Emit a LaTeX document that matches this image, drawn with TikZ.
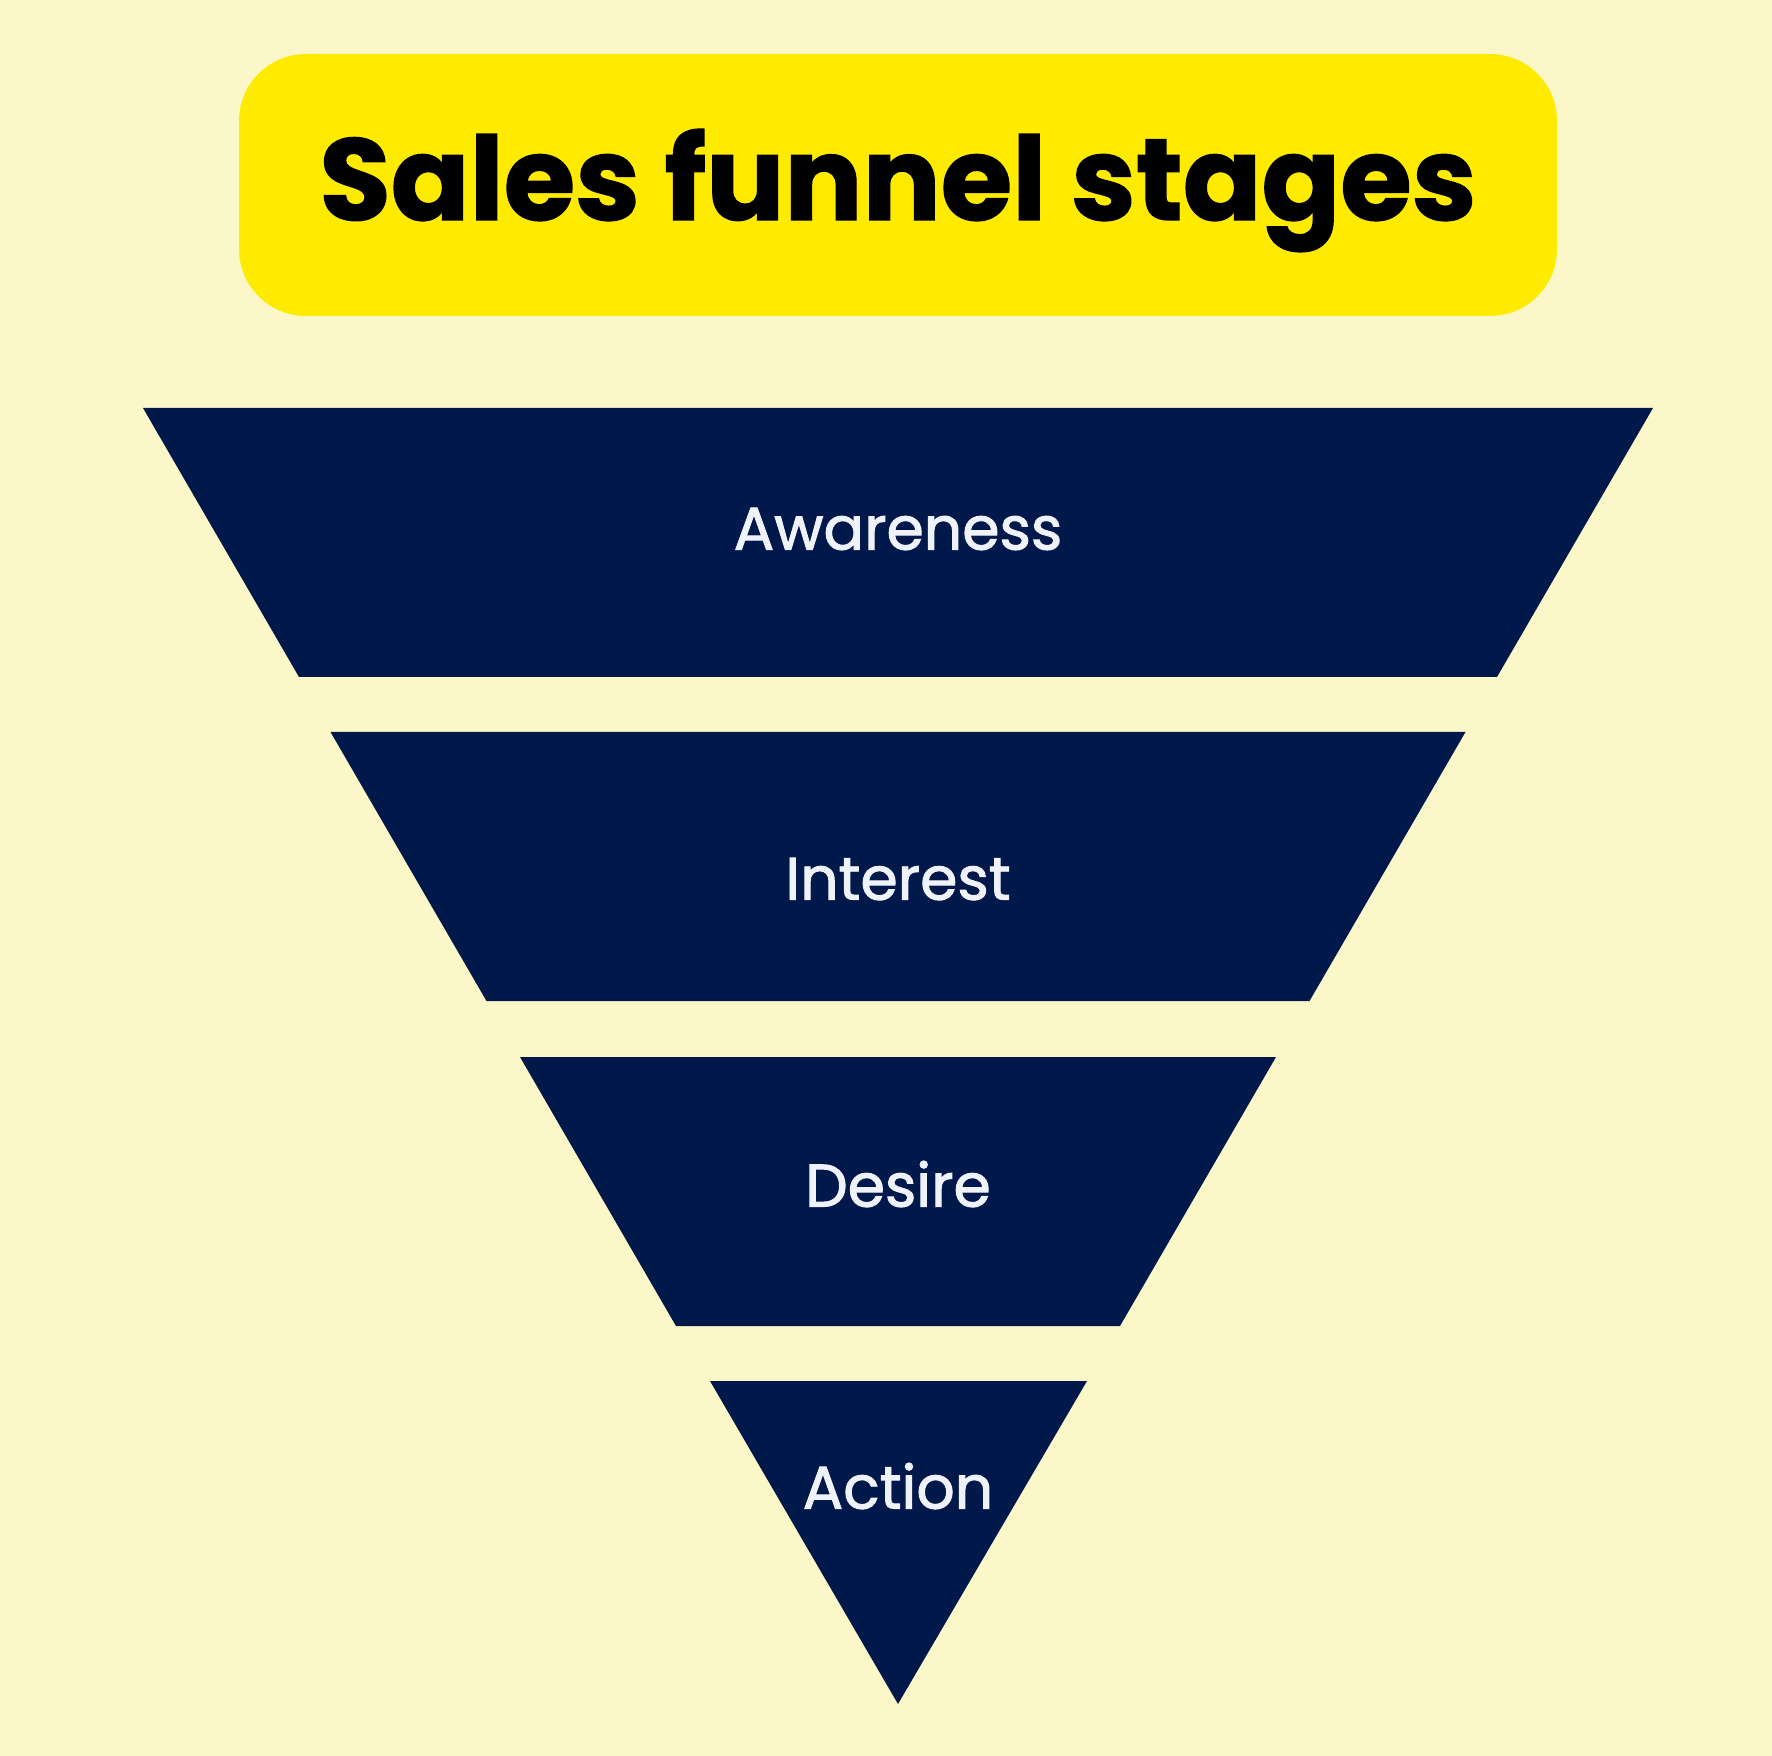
\documentclass[tikz,border=0pt]{standalone}
\usepackage{fontspec}
\setmainfont{Poppins}
\newfontfamily\titlefont{Poppins}[BoldFeatures={FakeBold=1.2}]
\newfontfamily\stagefont{Poppins}[FakeBold=1.6]
\usepackage{tikz}
\usetikzlibrary{positioning, calc}
\definecolor{bgcream}{RGB}{251,247,200}
\definecolor{hdryellow}{RGB}{255,235,0}
\definecolor{funnavy}{RGB}{0,24,74}
\definecolor{labwhite}{RGB}{240,242,250}
\tikzset{
  titlebox/.style={rectangle, fill=hdryellow, rounded corners=0.67cm,
    minimum width=13.18cm, minimum height=2.62cm, inner sep=0pt,
    text height=0.95cm, text depth=0.25cm,
    font=\titlefont\fontsize{33}{40}\selectfont\bfseries, text=black},
  stagelabel/.style={font=\stagefont\fontsize{17.1}{22}\selectfont, text=labwhite, inner sep=0pt},
  stage/.style={fill=funnavy}
}
\begin{document}
\begin{tikzpicture}
  % ── background ─────────────────────────────────────────────────────────────
  \fill[bgcream] (0,0) rectangle (17.72,-17.56);
  \useasboundingbox (0,0) rectangle (17.72,-17.56);

  % ── title ──────────────────────────────────────────────────────────────────
  \node[titlebox] (title) at (8.98,-1.85) {Sales funnel stages};

  % ── funnel stages (top y / half width) ─────────────────────────────────────
  \foreach \ytop/\hw in {4.08/7.55, 7.32/5.675, 10.57/3.78} {
    \fill[stage] ({8.98-\hw},-\ytop) -- ({8.98+\hw},-\ytop)
      -- ({8.98+\hw-1.56},{-\ytop-2.69}) -- ({8.98-\hw+1.56},{-\ytop-2.69}) -- cycle;
  }
  % bottom tip
  \fill[stage] (7.10,-13.81) -- (10.87,-13.81) -- (8.98,-17.04) -- cycle;

  % ── stage labels ───────────────────────────────────────────────────────────
  \node[stagelabel] (aware)    at (8.98,-5.29)  {Awareness};
  \node[stagelabel] (interest) at (8.98,-8.79)  {Interest};
  \node[stagelabel] (desire)   at (8.98,-11.84) {Desire};
  \node[stagelabel] (action)   at (8.98,-14.86) {Action};
\end{tikzpicture}
\end{document}
